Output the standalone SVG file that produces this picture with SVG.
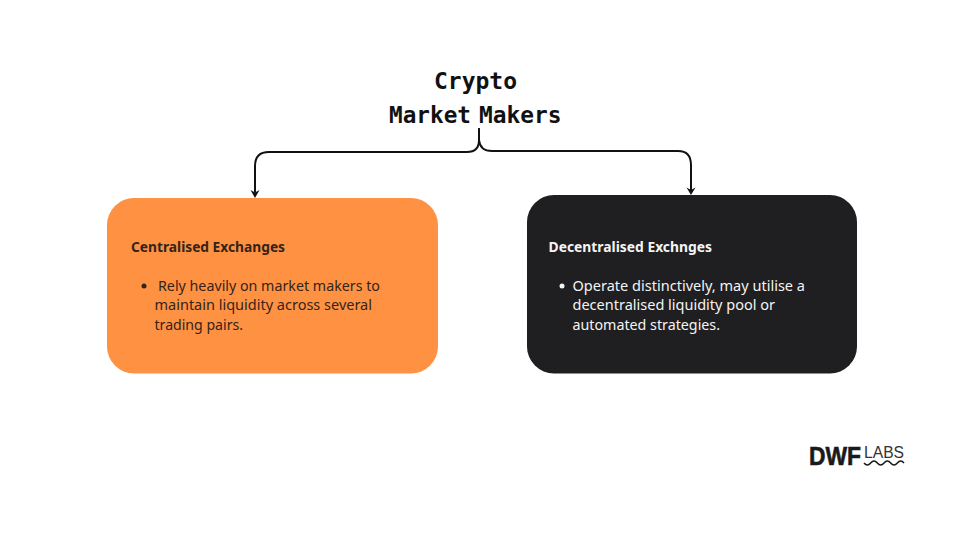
<svg xmlns="http://www.w3.org/2000/svg" width="960" height="540" viewBox="0 0 960 540">
<style>
.title{font-family:"DejaVu Sans Mono","Liberation Mono",monospace;font-size:23px;font-weight:700;fill:#111}
.h{font-family:"Noto Sans","Open Sans",sans-serif;font-size:14px;font-weight:700}
.b{font-family:"Noto Sans","Open Sans",sans-serif;font-size:14.4px}
.dark{fill:#33241a}
.light{fill:#f4f4f4}
.conn{fill:none;stroke:#111;stroke-width:2;stroke-linecap:round}
.head{fill:#111}
</style>
<rect width="960" height="540" fill="#fff"/>
<g id="connectors">
<path class="conn" d="M479 129V140Q479 152 467 152H269Q255 152 255 166V192"/>
<path class="conn" d="M479 129V140Q480 151 492 151H678Q691 151 691 165V190"/>
<path class="head" d="M250.500 190L255 198L259.500 190L255 192.500Z"/>
<path class="head" d="M686.500 187.500L691 195L695.500 187.500L691 190Z"/>
</g>
<g id="title">
<text class="title" x="434" y="89" textLength="83" lengthAdjust="spacingAndGlyphs">Crypto</text>
<text class="title" x="389" y="122.500" textLength="82" lengthAdjust="spacingAndGlyphs">Market</text>
<text class="title" x="479" y="122.500" textLength="82.500" lengthAdjust="spacingAndGlyphs">Makers</text>
</g>
<g id="centralised">
<rect x="107" y="198" width="331" height="175.500" rx="27" fill="#ff9142"/>
<text class="h dark" x="131" y="252" textLength="154" lengthAdjust="spacingAndGlyphs">Centralised Exchanges</text>
<circle class="dark" cx="144" cy="286" r="2.500"/>
<text class="b dark" x="158" y="291" textLength="222" lengthAdjust="spacingAndGlyphs">Rely heavily on market makers to</text>
<text class="b dark" x="154.500" y="310" textLength="217.500" lengthAdjust="spacingAndGlyphs">maintain liquidity across several</text>
<text class="b dark" x="154.500" y="330" textLength="88.500" lengthAdjust="spacingAndGlyphs">trading pairs.</text>
</g>
<g id="decentralised">
<rect x="527" y="195" width="330" height="178.500" rx="27" fill="#1f1f21"/>
<text class="h light" x="548.500" y="252" textLength="163.500" lengthAdjust="spacingAndGlyphs">Decentralised Exchnges</text>
<circle class="light" cx="562" cy="286" r="2.500"/>
<text class="b light" x="572.500" y="291" textLength="232.500" lengthAdjust="spacingAndGlyphs">Operate distinctively, may utilise a</text>
<text class="b light" x="572.500" y="310" textLength="202.500" lengthAdjust="spacingAndGlyphs">decentralised liquidity pool or</text>
<text class="b light" x="572.500" y="330" textLength="147.500" lengthAdjust="spacingAndGlyphs">automated strategies.</text>
</g>
<g id="logo">
<text x="809" y="465" font-family="'Liberation Sans',sans-serif" font-weight="700" font-size="25" fill="#1a1a1a" stroke="#1a1a1a" stroke-width="0.600" textLength="52" lengthAdjust="spacingAndGlyphs">DWF</text>
<text x="864" y="458" font-family="'Liberation Sans',sans-serif" font-size="16" fill="#333" textLength="40" lengthAdjust="spacingAndGlyphs">LABS</text>
<path d="M864 463q3.330 4 6.670 0t6.670 0t6.670 0t6.670 0t6.670 0t6.670 0" fill="none" stroke="#1a1a1a" stroke-width="1.500"/>
</g>
</svg>
